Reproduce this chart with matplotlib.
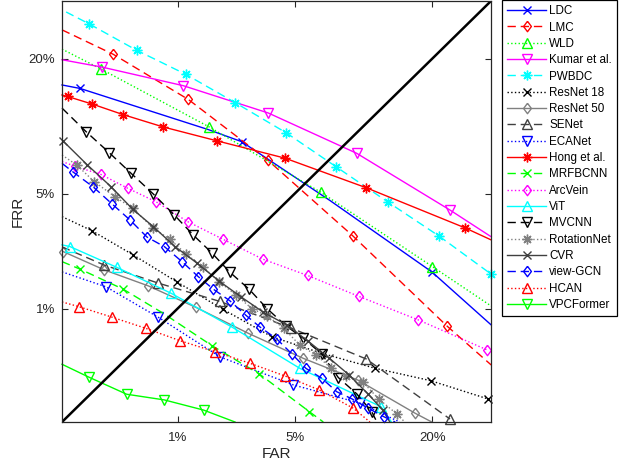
import math
import numpy as np
import matplotlib
matplotlib.use("Agg")
import matplotlib.pyplot as plt
from matplotlib.lines import Line2D
from matplotlib.ticker import FixedLocator, FuncFormatter, NullLocator

# ---------------- data (FAR %, FRR %) ----------------
tick_values = [1, 5, 20]
labels = ["LDC", "LMC", "WLD", "Kumar et al.", "PWBDC", "ResNet 18", "ResNet 50",
          "SENet", "ECANet", "Hong et al.", "MRFBCNN", "ArcVein", "ViT", "MVCNN",
          "RotationNet", "CVR", "view-GCN", "HCAN", "VPCFormer"]

ldc_far = [0.135, 0.19, 1.6, 2.54, 7.52, 19.9, 30.9]
ldc_frr = [15.9, 15.4, 10.3, 9.09, 4.6, 1.75, 0.768]
ldc_mk = [1, 3, 5]

lmc_far = [0.135, 0.346, 1.18, 3.58, 9.58, 22.4, 30.9]
lmc_frr = [25.1, 20.7, 13.9, 7.43, 2.91, 0.759, 0.389]
lmc_mk = [1, 2, 3, 4, 5]

wld_far = [0.135, 0.278, 1.61, 6.8, 20, 30.9]
wld_frr = [21.6, 18.3, 10.6, 5.09, 1.89, 1.04]
wld_mk = [1, 2, 3, 4]

kumar_far = [0.135, 0.284, 1.09, 3.61, 9.98, 23, 30.9]
kumar_frr = [19.8, 18.6, 15.8, 12.2, 8.01, 4.08, 2.87]
kumar_mk = [1, 2, 3, 4, 5]

pwbdc_far = [0.146, 0.222, 0.516, 1.13, 2.32, 4.51, 8.03, 13.5, 21.1, 30.8]
pwbdc_frr = [28.6, 26.3, 21.4, 17.5, 13.5, 9.99, 6.89, 4.53, 2.9, 1.7]
pwbdc_mk = [1, 2, 3, 4, 5, 6, 7, 8, 9]

resnet18_far = [0.135, 0.235, 0.488, 0.986, 1.96, 3.77, 6.86, 12, 19.7, 30.2]
resnet18_frr = [3.75, 3.12, 2.23, 1.51, 0.988, 0.633, 0.477, 0.367, 0.294, 0.21]
resnet18_mk = [1, 2, 3, 4, 5, 6, 7, 8, 9]

resnet50_far = [0.138, 0.295, 0.626, 1.32, 2.78, 5.55, 10.1, 17.3, 19.9]
resnet50_frr = [2.34, 1.8, 1.42, 1.02, 0.669, 0.437, 0.297, 0.16, 0.135]
resnet50_mk = [0, 1, 2, 3, 4, 5, 6, 7]

senet_far = [0.135, 0.295, 0.737, 1.87, 4.79, 11, 23]
senet_frr = [2.5, 1.93, 1.48, 1.12, 0.731, 0.432, 0.143]
senet_mk = [1, 2, 3, 4, 5, 6]

ecanet_far = [0.135, 0.304, 0.737, 1.89, 4.93, 10.3, 15.1]
ecanet_frr = [1.75, 1.4, 0.87, 0.447, 0.272, 0.194, 0.135]
ecanet_mk = [1, 2, 3, 4, 5]

hong_far = [0.135, 0.15, 0.238, 0.411, 0.798, 1.79, 4.45, 11, 25.7, 30.9]
hong_frr = [14.5, 14.3, 13.3, 12.0, 10.6, 9.18, 7.59, 5.38, 3.24, 2.75]
hong_mk = [1, 2, 3, 4, 5, 6, 7, 8]

mrfbcnn_far = [0.135, 0.19, 0.411, 0.798, 1.67, 3.22, 5.95, 6.98]
mrfbcnn_frr = [2.03, 1.82, 1.35, 0.927, 0.545, 0.331, 0.165, 0.135]
mrfbcnn_mk = [1, 2, 4, 5, 6]

arcvein_far = [0.135, 0.174, 0.278, 0.443, 0.71, 1.17, 1.97, 3.37, 5.83, 10.2, 17.8, 30.1]
arcvein_frr = [7.31, 6.91, 6.3, 5.35, 4.53, 3.51, 2.77, 2.1, 1.66, 1.21, 0.833, 0.505]
arcvein_mk = [1, 2, 3, 4, 5, 6, 7, 8, 9, 10, 11]

vit_far = [0.135, 0.157, 0.367, 0.902, 2.22, 5.32, 12.7, 14]
vit_frr = [2.57, 2.51, 1.87, 1.27, 0.743, 0.367, 0.181, 0.135]
vit_mk = [1, 2, 3, 4, 5, 6]

mvcnn_far = [0.135, 0.212, 0.322, 0.469, 0.679, 0.95, 1.27, 1.67, 2.16, 2.81, 3.55,
             4.52, 5.55, 6.86, 8.23, 9.98, 11.6, 12.2]
mvcnn_frr = [12.8, 10.1, 8.06, 6.39, 4.99, 3.83, 2.94, 2.3, 1.74, 1.35, 1, 0.755,
             0.616, 0.471, 0.311, 0.231, 0.165, 0.135]
mvcnn_mk = list(range(1, 17))

rotnet_far = [0.135, 0.178, 0.246, 0.356, 0.483, 0.679, 0.888, 1.14, 1.46, 1.86, 2.34,
              2.93, 3.57, 4.39, 5.31, 6.43, 7.63, 8.97, 10.6, 12.4, 14.7, 15.8]
rotnet_frr = [7.86, 7.03, 5.79, 4.82, 4.17, 3.22, 2.77, 2.26, 1.89, 1.51, 1.24, 0.996,
              0.888, 0.727, 0.55, 0.463, 0.367, 0.317, 0.288, 0.21, 0.158, 0.135]
rotnet_mk = list(range(1, 21))

cvr_far = [0.137, 0.217, 0.332, 0.483, 0.679, 0.96, 1.34, 1.85, 2.52, 3.37, 4.55,
           5.86, 7.44, 9.22, 11.2, 12.9, 13.8]
cvr_frr = [9.18, 7.03, 5.45, 4.12, 3.29, 2.51, 1.99, 1.53, 1.2, 0.947, 0.768, 0.588,
           0.44, 0.326, 0.23, 0.17, 0.135]
cvr_mk = list(range(0, 16))

viewgcn_far = [0.135, 0.165, 0.242, 0.338, 0.461, 0.613, 0.816, 1.07, 1.37, 1.71, 2.16,
               2.68, 3.24, 4.02, 4.82, 5.73, 6.86, 8.09, 9.51, 11.2, 13.0, 14.5]
viewgcn_frr = [7.16, 6.51, 5.43, 4.41, 3.59, 2.86, 2.5, 2.03, 1.63, 1.35, 1.13, 0.902,
               0.743, 0.609, 0.475, 0.366, 0.307, 0.24, 0.21, 0.176, 0.15, 0.135]
viewgcn_mk = list(range(1, 21))

hcan_far = [0.135, 0.186, 0.34, 0.6, 1.04, 1.75, 2.84, 4.45, 6.67, 9.64, 11.4]
hcan_frr = [1.11, 1.03, 0.87, 0.727, 0.591, 0.49, 0.401, 0.32, 0.248, 0.176, 0.135]
hcan_mk = list(range(1, 10))

vpcformer_far = [0.135, 0.225, 0.436, 0.811, 1.48, 2.32]
vpcformer_frr = [0.394, 0.312, 0.229, 0.206, 0.17, 0.135]
vpcformer_mk = [1, 2, 3, 4]

series = [
    (ldc_far, ldc_frr, ldc_mk), (lmc_far, lmc_frr, lmc_mk), (wld_far, wld_frr, wld_mk),
    (kumar_far, kumar_frr, kumar_mk), (pwbdc_far, pwbdc_frr, pwbdc_mk),
    (resnet18_far, resnet18_frr, resnet18_mk), (resnet50_far, resnet50_frr, resnet50_mk),
    (senet_far, senet_frr, senet_mk), (ecanet_far, ecanet_frr, ecanet_mk),
    (hong_far, hong_frr, hong_mk), (mrfbcnn_far, mrfbcnn_frr, mrfbcnn_mk),
    (arcvein_far, arcvein_frr, arcvein_mk), (vit_far, vit_frr, vit_mk),
    (mvcnn_far, mvcnn_frr, mvcnn_mk), (rotnet_far, rotnet_frr, rotnet_mk),
    (cvr_far, cvr_frr, cvr_mk), (viewgcn_far, viewgcn_frr, viewgcn_mk),
    (hcan_far, hcan_frr, hcan_mk), (vpcformer_far, vpcformer_frr, vpcformer_mk),
]

# ---------------- normal-deviate (DET) scale ----------------
A = [-3.969683028665376e+01, 2.209460984245205e+02, -2.759285104469687e+02,
     1.383577518672690e+02, -3.066479806614716e+01, 2.506628277459239e+00]
B = [-5.447609879822406e+01, 1.615858368580409e+02, -1.556989798598866e+02,
     6.680131188771972e+01, -1.328068155288572e+01]
C = [-7.784894002430293e-03, -3.223964580411365e-01, -2.400758277161838e+00,
     -2.549732539343734e+00, 4.374664141464968e+00, 2.938163982698783e+00]
Dd = [7.784695709041462e-03, 3.224671290700398e-01, 2.445134137142996e+00,
      3.754408661907416e+00]

def ndtri(p):
    p = np.clip(np.asarray(p, dtype=float), 1e-15, 1 - 1e-15)
    q = p - 0.5
    r = q * q
    cen = (((((A[0]*r+A[1])*r+A[2])*r+A[3])*r+A[4])*r+A[5])*q / \
          (((((B[0]*r+B[1])*r+B[2])*r+B[3])*r+B[4])*r+1)
    pl = np.minimum(p, 1 - p)
    t = np.sqrt(-2 * np.log(pl))
    tail = (((((C[0]*t+C[1])*t+C[2])*t+C[3])*t+C[4])*t+C[5]) / \
           ((((Dd[0]*t+Dd[1])*t+Dd[2])*t+Dd[3])*t+1)
    tail = np.where(p < 0.5, tail, -tail)
    return np.where(np.abs(q) <= 0.5 - 0.02425, cen, tail)

_erfc = np.vectorize(math.erfc, otypes=[float])
def ncdf(z):
    z = np.asarray(z, dtype=float)
    return 0.5 * _erfc(-z / math.sqrt(2))

fwd = lambda v: ndtri(np.asarray(v, dtype=float) / 100.0)
inv = lambda z: ncdf(z) * 100.0

# ---------------- figure ----------------
plt.rcParams['font.family'] = ['Liberation Sans', 'DejaVu Sans']
AX = '#262626'
fig = plt.figure(figsize=(6.19, 4.68), dpi=100)
ax = fig.add_axes([62/619, 1 - 422/468, 429/619, 421/468])
ax.set_xscale('function', functions=(fwd, inv))
ax.set_yscale('function', functions=(fwd, inv))
lo, hi = float(inv(-3.0)), float(inv(-0.5))
ax.set_xlim(lo, hi); ax.set_ylim(lo, hi)

dia = [(0, 1), (0.75, 0), (0, -1), (-0.75, 0), (0, 1)]
ast = (8, 2, 0)
styles = [
 ("#0000ff", "-", "x", 6), ("#ff0000", "--", dia, 7.5), ("#00ff00", ":", "^", 6.5),
 ("#ff00ff", "-", "v", 6.5), ("#00ffff", "--", ast, 7), ("#000000", ":", "x", 6),
 ("#808080", "-", dia, 7.5), ("#404040", "--", "^", 6.5), ("#0000ff", ":", "v", 6.5),
 ("#ff0000", "-", ast, 7), ("#00ff00", "--", "x", 6), ("#ff00ff", ":", dia, 7.5),
 ("#00ffff", "-", "^", 6.5), ("#000000", "--", "v", 6.5), ("#808080", ":", ast, 7),
 ("#404040", "-", "x", 6), ("#0000ff", "--", dia, 7.5), ("#ff0000", ":", "^", 6.5),
 ("#00ff00", "-", "v", 6.5),
]
handles = []
for (far, frr, mi), (col, ls, mk, ms) in zip(series, styles):
    kw = dict(color=col, lw=1.0, marker=mk, ms=ms, mfc='none', mec=col, mew=1.0)
    ln, = ax.plot(far, frr, ls=ls, markevery=mi, clip_on=False, **kw)
    h = Line2D([], [], ls=ls, **kw)
    if ls == "--":
        ln.set_dashes((6, 3.5)); h.set_dashes((6, 3.5))
    handles.append(h)

ax.plot([lo, hi], [lo, hi], color='k', lw=1.8)

for a in (ax.xaxis, ax.yaxis):
    a.set_major_locator(FixedLocator(tick_values))
    a.set_major_formatter(FuncFormatter(lambda v, _: f"{v:g}%"))
    a.set_minor_locator(NullLocator())
ax.tick_params(which='both', direction='in', length=4, width=0.8, color=AX,
               labelsize=9.5, labelcolor=AX, top=True, right=True, pad=5)
ax.tick_params(axis='x', pad=7.5)
for s in ax.spines.values():
    s.set_color(AX); s.set_linewidth(0.9)
ax.set_xlabel("FAR", fontsize=11, color=AX, labelpad=2)
ax.set_ylabel("FRR", fontsize=11, color=AX, labelpad=3)

leg = fig.legend(handles, labels, loc='upper left', bbox_to_anchor=(502/619, 1.0),
                 borderaxespad=0, fontsize=8.4, frameon=True, fancybox=False,
                 framealpha=1, edgecolor='k', handlelength=3.3, handletextpad=0.3,
                 labelspacing=0.37, borderpad=0.45, numpoints=1)
leg.get_frame().set_linewidth(0.9)
fig.savefig("out.png", dpi=100)
